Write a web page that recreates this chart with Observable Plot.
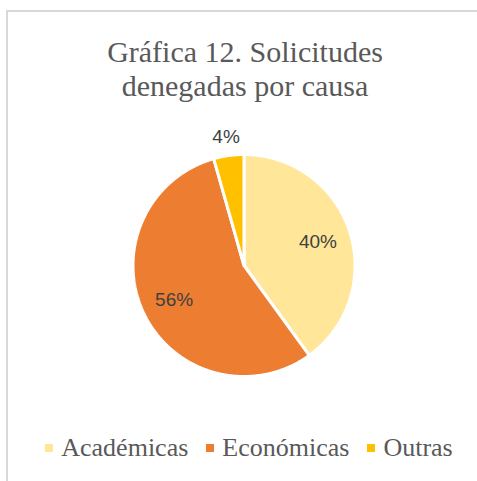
<!DOCTYPE html>
<html><head><meta charset="utf-8">
<script src="https://cdn.jsdelivr.net/npm/d3@7"></script>
<script src="https://cdn.jsdelivr.net/npm/@observablehq/plot@0.6"></script>
<style>
body{margin:0;background:#fff;width:477px;height:481px;overflow:hidden;position:relative}
#frame{position:absolute;left:6px;top:10px;width:600px;height:600px;border-left:2px solid #d9d9d9;border-top:2px solid #d9d9d9}
#chart{position:absolute;left:0;top:0}
#legend{position:absolute;left:0;width:498px;top:431px;display:flex;justify-content:center}
#legend span{margin-right:18px !important}
#legend span:last-of-type{margin-right:0 !important}
#legend span > svg{margin-right:8px !important}
</style></head><body>
<div id="frame"></div>
<div id="chart"></div>
<div id="legend"></div>
<script>
const categories = ["Académicas", "Económicas", "Outras"];
const values = [40, 55.6, 4.4];
const colors = ["#FFE699", "#ED7D31", "#FFC000"];
const titleLines = ["Gráfica 12. Solicitudes", "denegadas por causa"];

const total = d3.sum(values);
const arcs = d3.pie().sort(null).value(d => d)(values);

const pts = [];
arcs.forEach((a, i) => {
  const cat = categories[i];
  pts.push({cat, x: 0, y: 0});
  const n = Math.max(2, Math.ceil((a.endAngle - a.startAngle) / 0.005));
  for (let k = 0; k <= n; k++) {
    const t = a.startAngle + (a.endAngle - a.startAngle) * k / n;
    pts.push({cat, x: Math.sin(t), y: Math.cos(t)});
  }
  pts.push({cat, x: 0, y: 0});
});

const fmt = d3.format(".0%");
const labels = arcs.map((a, i) => {
  const mid = (a.startAngle + a.endAngle) / 2;
  const share = values[i] / total;
  const r = share < 0.1 ? 1.17 : 0.7;
  return {x: r * Math.sin(mid), y: r * Math.cos(mid), text: fmt(share)};
});

const cx = 243.5, cy = 265, R = 111;
const plot = Plot.plot({
  width: 477, height: 481,
  marginLeft: cx - R, marginRight: 477 - cx - R,
  marginTop: cy - R, marginBottom: 481 - cy - R,
  x: {domain: [-1, 1], axis: null},
  y: {domain: [-1, 1], axis: null},
  color: {domain: categories, range: colors},
  style: {background: "transparent", overflow: "visible"},
  marks: [
    Plot.line(pts, {x: "x", y: "y", z: "cat", fill: "cat", stroke: "white", strokeWidth: 3, strokeLinejoin: "miter"}),
    Plot.text(labels, {x: "x", y: "y", text: "text", fontSize: 19, fill: "#404040", fontFamily: "Liberation Sans"}),
    Plot.text([titleLines.join("\n")], {frameAnchor: "top", lineAnchor: "top", text: d => d, dx: 1, dy: -117, fontSize: 30, lineHeight: 34 / 30, fontFamily: "Liberation Serif", fill: "#595959"})
  ]
});
document.getElementById("chart").appendChild(plot);

const leg = Plot.legend({
  color: {type: "ordinal", domain: categories, range: colors},
  legend: "swatches",
  swatchSize: 8,
  style: {fontSize: "26px", fontFamily: "Liberation Serif", color: "#595959", background: "transparent"}
});
document.getElementById("legend").appendChild(leg);
</script>
</body></html>
